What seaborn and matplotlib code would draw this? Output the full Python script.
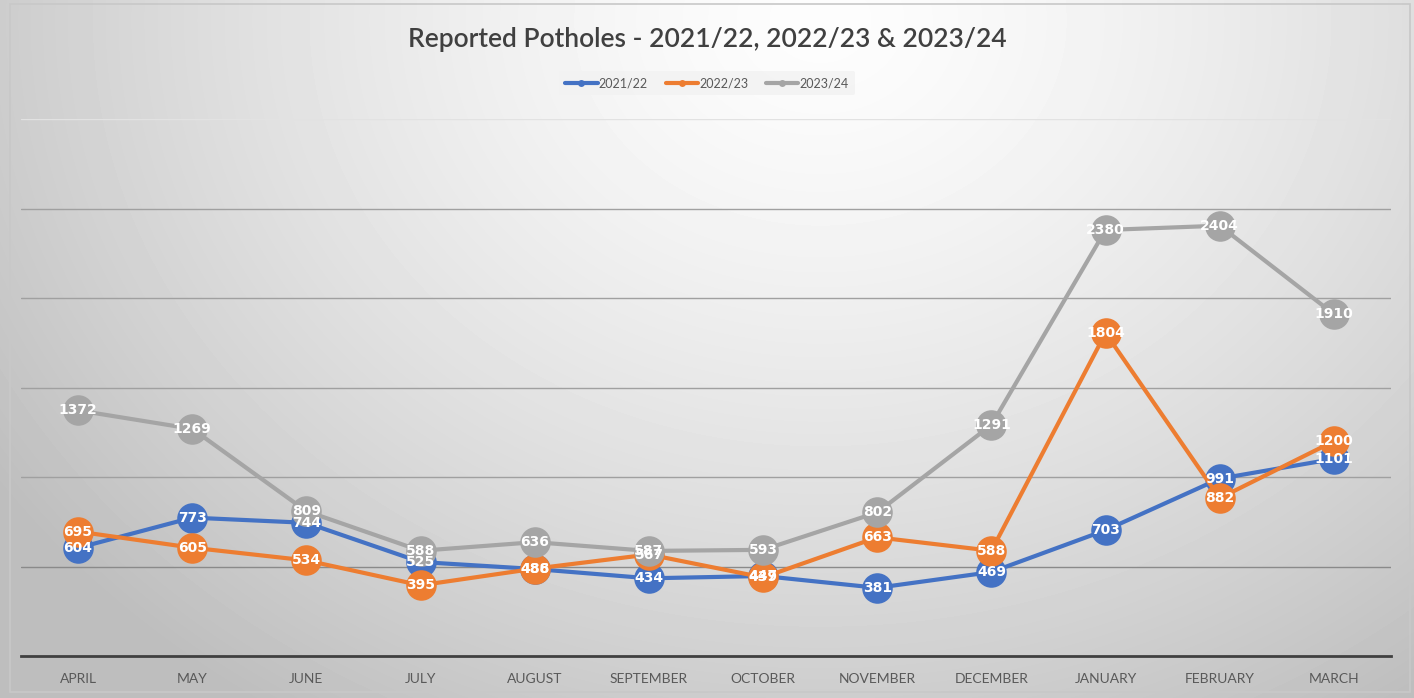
import numpy as np
import pandas as pd
import matplotlib
matplotlib.use("Agg")
import matplotlib.pyplot as plt
import seaborn as sns
from matplotlib.patches import Rectangle

months = ["APRIL", "MAY", "JUNE", "JULY", "AUGUST", "SEPTEMBER", "OCTOBER",
          "NOVEMBER", "DECEMBER", "JANUARY", "FEBRUARY", "MARCH"]
seasons = ["2021/22", "2022/23", "2023/24"]
v2122 = [604, 773, 744, 525, 486, 434, 447, 381, 469, 703, 991, 1101]
v2223 = [695, 605, 534, 395, 488, 567, 439, 663, 588, 1804, 882, 1200]
v2324 = [1372, 1269, 809, 588, 636, 587, 593, 802, 1291, 2380, 2404, 1910]
colors = ["#4472C4", "#ED7D31", "#A5A5A5"]

df = pd.DataFrame({
    "month": months * 3,
    "season": np.repeat(seasons, len(months)),
    "value": v2122 + v2223 + v2324,
})

sns.set_theme(style="white")
plt.rcParams["font.family"] = ["Lato", "DejaVu Sans"]

W, H = 1414, 698
fig = plt.figure(figsize=(W / 100, H / 100), dpi=100)

# background gradient
bg = fig.add_axes([0, 0, 1, 1], zorder=-10)
yy, xx = np.mgrid[0:H, 0:W]
d = np.sqrt(((xx - 820) / 1.0) ** 2 + ((yy - 20) * 1.2) ** 2)
val = 253 - 55 * (d / 900.0) ** 1.4
val = np.clip(val, 190, 253) / 255.0
bg.imshow(val, cmap="gray", vmin=0, vmax=1, aspect="auto", extent=[0, W, H, 0])
bg.set_xlim(0, W)
bg.set_ylim(H, 0)
bg.axis("off")
bg.add_patch(Rectangle((10, 4), W - 14, H - 10, fill=False, edgecolor="#c8c8c8", linewidth=1.2))

ax = fig.add_axes([21 / W, 42 / H, (1391 - 21) / W, (656 - 119) / H])
ax.set_facecolor("none")

sns.lineplot(data=df, x="month", y="value", hue="season", palette=colors,
             marker="o", markersize=22, markeredgewidth=0, linewidth=3,
             ax=ax, sort=False)

ax.set_xlim(-0.5, len(months) - 0.5)
ax.set_ylim(0, 3000)
ax.set_yticks(np.arange(500, 3001, 500))
ax.yaxis.grid(True, color="#a0a0a0", linewidth=1)
gl = ax.get_ygridlines()
gl[-1].set_color("#e2e2e2")
gl[0].set_color("#8a8a8a")
ax.set_axisbelow(True)
ax.set_yticklabels([])
ax.tick_params(axis="y", length=0)
ax.tick_params(axis="x", length=0, pad=12, labelsize=10, labelcolor="#595959")
ax.set_xlabel("")
ax.set_ylabel("")
for s in ["top", "left", "right"]:
    ax.spines[s].set_visible(False)
ax.spines["bottom"].set_color("#404040")
ax.spines["bottom"].set_linewidth(2)

for vals in [v2122, v2223, v2324]:
    for i, v in enumerate(vals):
        ax.text(i, v, str(v), ha="center", va="center", color="white",
                fontsize=10, fontweight="bold",
                family=["Liberation Sans Narrow", "DejaVu Sans"], zorder=10)

leg = ax.legend(loc="center", bbox_to_anchor=(707 / W, 1 - 83 / H),
                bbox_transform=fig.transFigure, ncol=3, frameon=True,
                fontsize=9, handlelength=2.6, columnspacing=1.4,
                handletextpad=0.1, borderpad=0.5)
leg.get_frame().set_facecolor("#f2f2f2")
leg.get_frame().set_edgecolor("none")
leg.get_frame().set_alpha(0.8)
for h in leg.legend_handles:
    h.set_markersize(5)
    h.set_linewidth(3)
for t in leg.get_texts():
    t.set_color("#595959")

fig.text(707 / W, 1 - 40 / H, "Reported Potholes - 2021/22, 2022/23 & 2023/24",
         ha="center", va="center", fontsize=19, color="#404040", fontweight="semibold")

fig.savefig("out.png", dpi=100)
